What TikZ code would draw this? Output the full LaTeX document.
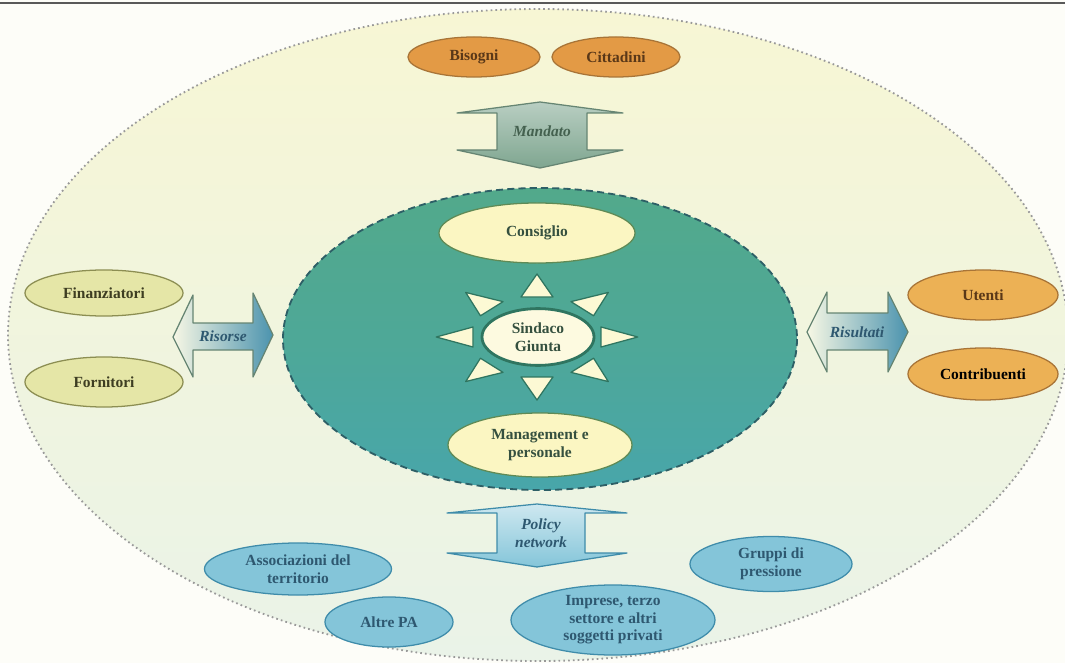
\documentclass[tikz,border=0pt]{standalone}
\usepackage{fontspec}
\setmainfont{Liberation Serif}
\usepackage{tikz}
\usetikzlibrary{shapes.geometric}

\definecolor{paper}{HTML}{FDFDF8}
\definecolor{outertop}{HTML}{F7F6D4}
\definecolor{outerbot}{HTML}{EAF3E8}
\definecolor{innertop}{HTML}{52A98B}
\definecolor{innerbot}{HTML}{48A6AA}
\definecolor{innerline}{HTML}{2D5F66}
\definecolor{orangefill}{HTML}{E39A45}
\definecolor{orangeline}{HTML}{A87437}
\definecolor{orangetext}{HTML}{5A3818}
\definecolor{goldfill}{HTML}{ECB155}
\definecolor{olivefill}{HTML}{E5E6A7}
\definecolor{oliveline}{HTML}{8C8E52}
\definecolor{olivetext}{HTML}{3E3E22}
\definecolor{palefill}{HTML}{FBF6C2}
\definecolor{paleline}{HTML}{5F8A55}
\definecolor{greentext}{HTML}{35503F}
\definecolor{sunline}{HTML}{2F7560}
\definecolor{bluefill}{HTML}{84C5D9}
\definecolor{blueline}{HTML}{3F8CAA}
\definecolor{bluetext}{HTML}{2E5870}
\definecolor{steel}{HTML}{4B93AE}
\definecolor{sage}{HTML}{7FA690}

\tikzset{
  lbl/.style={font=\bfseries\fontsize{11}{12.5}\selectfont, align=center},
  arrlbl/.style={font=\bfseries\itshape\fontsize{11}{12.5}\selectfont, align=center},
  oval/.style={draw, ellipse, inner sep=0pt, line width=0.9pt, lbl},
  orangeov/.style={oval, draw=orangeline, fill=orangefill, text=orangetext},
  goldov/.style={oval, draw=orangeline, fill=goldfill, text=orangetext},
  oliveov/.style={oval, draw=oliveline, fill=olivefill, text=olivetext},
  paleov/.style={oval, draw=paleline, fill=palefill, text=greentext},
  blueov/.style={oval, draw=blueline, fill=bluefill, text=bluetext},
  suntri/.style={draw=sunline, fill=palefill!70!white, line width=0.9pt, line join=round},
  blockarr/.style={draw=sage!80!black, line width=0.9pt, line join=round}
}

\begin{document}
\begin{tikzpicture}[x=0.025cm, y=-0.025cm]
    \useasboundingbox (0,0) rectangle (1065,663);
    \fill[paper] (0,0) rectangle (1065,663);
    \draw[black!65, line width=1.5pt] (0,3) -- (1065,3);

    % outer field and inner core
    \path[top color=outertop, bottom color=outerbot] (538,335) ellipse [x radius=530, y radius=326];
    \draw[black!40, line width=1.3pt, dash pattern=on 1.2pt off 2.2pt] (538,335) ellipse [x radius=530, y radius=326];
    \path[top color=innertop, bottom color=innerbot, middle color=innertop!60!innerbot] (540,339) ellipse [x radius=257, y radius=151];
    \draw[innerline, line width=1.3pt, dash pattern=on 5pt off 3pt] (540,339) ellipse [x radius=257, y radius=151];

    % top
    \node[orangeov, minimum width=3.3cm, minimum height=1.0cm] (bisogni) at (474,57) {Bisogni};
    \node[orangeov, minimum width=3.2cm, minimum height=1.0cm] (cittadini) at (616,57) {Cittadini};
    \path[blockarr, top color=sage!55!white, bottom color=sage] (457,113) -- (540,102) -- (623,113) -- (587,113) -- (587,150) -- (623,150) -- (540,168) -- (457,150) -- (497,150) -- (497,113) -- cycle;
    \node[arrlbl, text=greentext!80!sage] (mandato) at (542,131) {Mandato};

    % core
    \node[paleov, minimum width=4.9cm, minimum height=1.5cm] (consiglio) at (537,233) {Consiglio};
    \begin{scope}[shift={(537,337)}, xscale=1.6]
        \foreach \a in {0,45,...,315}
            \draw[suntri, rotate=\a] (63,0) -- (40,10) -- (40,-10) -- cycle;
    \end{scope}
    \node[oval, draw=sunline, line width=2pt, fill=palefill!50!white, text=greentext, minimum width=2.8cm, minimum height=1.42cm] (sindaco) at (538,337) {Sindaco\\Giunta};
    \node[paleov, minimum width=4.6cm, minimum height=1.6cm] (management) at (540,445) {Management e\\personale};

    % left
    \node[oliveov, minimum width=3.95cm, minimum height=1.15cm] (finanziatori) at (104,293) {Finanziatori};
    \node[oliveov, minimum width=3.95cm, minimum height=1.25cm] (fornitori) at (104,382) {Fornitori};
    \path[blockarr, left color=olivefill!30!white, right color=steel] (173,337) -- (193,295) -- (193,323) -- (253,323) -- (253,293) -- (273,335) -- (253,377) -- (253,350) -- (193,350) -- (193,377) -- cycle;
    \node[arrlbl, text=bluetext] (risorse) at (223,336) {Risorse};

    % right
    \node[goldov, minimum width=3.75cm, minimum height=1.25cm] (utenti) at (983,295) {Utenti};
    \node[goldov, text=black, minimum width=3.75cm, minimum height=1.3cm] (contribuenti) at (983,374) {Contribuenti};
    \path[blockarr, left color=olivefill!30!white, right color=steel] (807,332) -- (827,292) -- (827,313) -- (888,313) -- (888,292) -- (908,332) -- (888,372) -- (888,350) -- (827,350) -- (827,372) -- cycle;
    \node[arrlbl, text=bluetext] (risultati) at (857,332) {Risultati};

    % bottom
    \path[blockarr, draw=blueline, top color=bluefill!40!white, bottom color=bluefill] (447,513) -- (537,504) -- (627,513) -- (585,513) -- (585,553) -- (627,553) -- (537,567) -- (447,553) -- (497,553) -- (497,513) -- cycle;
    \node[arrlbl, text=bluetext] (policy) at (541,533) {Policy\\network};
    \node[blueov, minimum width=4.675cm, minimum height=1.3cm] (associazioni) at (298,569) {Associazioni del\\territorio};
    \node[blueov, minimum width=3.2cm, minimum height=1.25cm] (altrepa) at (389,622) {Altre PA};
    \node[blueov, minimum width=5.1cm, minimum height=1.75cm] (imprese) at (613,620) {Imprese, terzo\\settore e altri\\soggetti privati};
    \node[blueov, minimum width=4.05cm, minimum height=1.375cm] (gruppi) at (771,564) {Gruppi di\\pressione};
\end{tikzpicture}
\end{document}
